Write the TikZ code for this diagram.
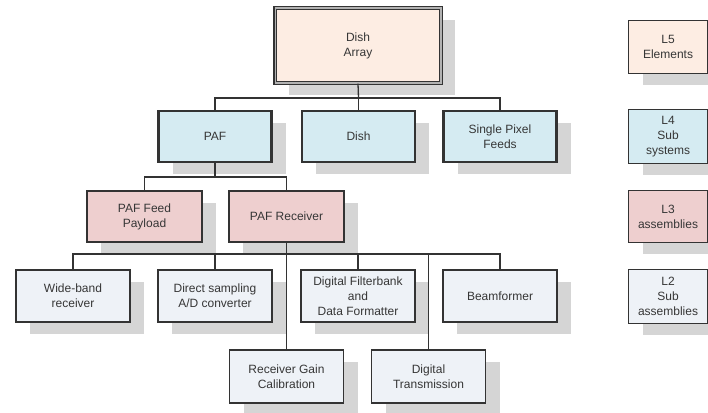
\documentclass[tikz,border=0pt]{standalone}
\usepackage{fontspec}
\setmainfont{Liberation Sans}
\usetikzlibrary{shadows}
\definecolor{lfive}{HTML}{FDEDE3}
\definecolor{lfour}{HTML}{D5EBF2}
\definecolor{lthree}{HTML}{EECFCF}
\definecolor{ltwo}{HTML}{EEF2F7}
\definecolor{shade}{HTML}{D5D5D5}
\definecolor{ink}{HTML}{333333}
\definecolor{txt}{HTML}{363636}
\begin{document}
\begin{tikzpicture}[x=1pt,y=-1pt,
  box/.style={draw=ink, text=txt, align=center, inner sep=0pt,
    font=\fontsize{12}{15}\selectfont,
    drop shadow={shadow xshift=14pt, shadow yshift=-12pt, opacity=1, fill=shade}},
  topbox/.style={box, fill=lfive, line width=1.5pt, double=gray!60,
    double distance=1.3pt, minimum width=165.7pt, minimum height=74.7pt},
  subsys/.style={box, fill=lfour, line width=2.8pt,
    minimum width=113pt, minimum height=51pt},
  assy/.style={box, fill=lthree, line width=1.8pt,
    minimum width=115pt, minimum height=51pt},
  subassy/.style={box, fill=ltwo, line width=1.8pt,
    minimum width=114pt, minimum height=52.5pt},
  key/.style={box, line width=1.4pt, minimum width=78.5pt},
  wire/.style={draw=ink, line width=1.3pt}]

\useasboundingbox (0,0) rectangle (708,412);

% level 5
\node[topbox] (arr) at (358,45.5) {Dish\\Array};

% level 4
\node[subsys] (paf)  at (215,136.5) {PAF};
\node[subsys] (dish) at (358.5,136.5) {Dish};
\node[subsys] (spf)  at (500,136.5) {Single Pixel\\Feeds};

% level 3
\node[assy] (pfp) at (144.5,216.5) {PAF Feed\\Payload};
\node[assy] (prx) at (286.5,216.5) {PAF Receiver};

% level 2
\node[subassy] (wbr) at (73,296) {Wide-band\\receiver};
\node[subassy] (adc) at (215,296) {Direct sampling\\A/D converter};
\node[subassy] (dfb) at (358,296) {Digital Filterbank\\and\\Data Formatter};
\node[subassy] (bfm) at (500,296) {Beamformer};
\node[subassy] (rgc) at (286.5,376.5) {Receiver Gain\\Calibration};
\node[subassy] (dtx) at (428.5,376.5) {Digital\\Transmission};

% level key
\node[key, fill=lfive,  minimum height=52.5pt] (k5) at (668,47)    {L5\\Elements};
\node[key, fill=lfour,  minimum height=53.5pt] (k4) at (668,136.5) {L4\\Sub\\systems};
\node[key, fill=lthree, minimum height=51.5pt] (k3) at (668,216.5) {L3\\assemblies};
\node[key, fill=ltwo,   minimum height=53.5pt] (k2) at (668,296.5) {L2\\Sub\\assemblies};

% connectors
\coordinate (busA) at (358.5,98);
\coordinate (busB) at (215,177);
\coordinate (busC) at (286.5,254);

\draw[wire] (arr.south) -- (busA);
\draw[wire] (paf.north) |- (busA) -| (spf.north);
\draw[wire] (dish.north) -- (dish.north |- busA);

\draw[wire] (paf.south) -- (busB);
\draw[wire] (pfp.north) |- (busB) -| (prx.north);

\draw[wire] (prx.south) -- (rgc.north);
\draw[wire] (wbr.north) |- (busC) -| (bfm.north);
\draw[wire] (adc.north) -- (adc.north |- busC);
\draw[wire] (dfb.north) -- (dfb.north |- busC);
\draw[wire] (dtx.north) -- (dtx.north |- busC);
\end{tikzpicture}
\end{document}
